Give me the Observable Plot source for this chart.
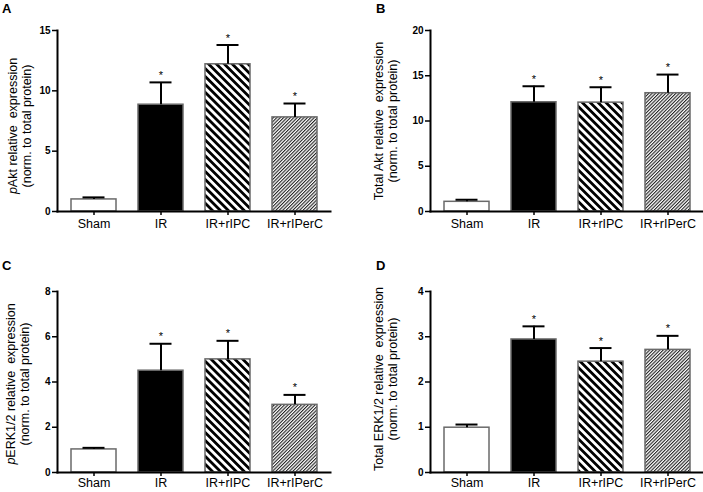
<!DOCTYPE html>
<html><head><meta charset="utf-8">
<script src="https://cdn.jsdelivr.net/npm/d3@7"></script>
<script src="https://cdn.jsdelivr.net/npm/@observablehq/plot@0.6"></script>
<style>
html,body{margin:0;padding:0;background:#fff;}
#root{position:relative;width:703px;height:492px;overflow:hidden;font-family:"Liberation Sans",Arial,sans-serif;color:#000;}
.panel{position:absolute;}
.plab{position:absolute;font-weight:bold;font-size:13px;line-height:13px;}
.ytitle{position:absolute;white-space:pre;text-align:center;font-size:12.5px;line-height:14px;transform:translate(-50%,-50%) rotate(-90deg);}
</style></head><body>
<svg width="0" height="0" style="position:absolute">
  <defs>
    <pattern id="hatchThick" patternUnits="userSpaceOnUse" width="5.6" height="5.6" patternTransform="rotate(-45)">
      <rect width="5.6" height="5.6" fill="white"/><rect width="2.8" height="5.6" fill="black"/>
    </pattern>
    <pattern id="hatchThin" patternUnits="userSpaceOnUse" width="2.4" height="2.4" patternTransform="rotate(45)">
      <rect width="2.4" height="2.4" fill="white"/><rect width="1.1" height="2.4" fill="#222"/>
    </pattern>
  </defs>
</svg>
<div id="root"></div>
<script>
// ---- data ----
const categories = ["Sham", "IR", "IR+rIPC", "IR+rIPerC"];
const significant = [false, true, true, true];
const fills = ["white", "black", "url(#hatchThick)", "url(#hatchThin)"];

const pAktMean = [1.0, 8.85, 12.2, 7.8];
const pAktSem = [0.17, 1.85, 1.6, 1.15];
const pAktTicks = [0, 5, 10, 15];

const totalAktMean = [1.07, 12.07, 12.03, 13.07];
const totalAktSem = [0.23, 1.77, 1.7, 2.06];
const totalAktTicks = [0, 5, 10, 15, 20];

const pErkMean = [1.02, 4.5, 5.0, 2.99];
const pErkSem = [0.07, 1.19, 0.82, 0.44];
const pErkTicks = [0, 2, 4, 6, 8];

const totalErkMean = [0.99, 2.94, 2.45, 2.71];
const totalErkSem = [0.07, 0.29, 0.30, 0.31];
const totalErkTicks = [0, 1, 2, 3, 4];

const panelLetters = ["A", "B", "C", "D"];
const titleLine1 = ["<i>p</i>Akt relative  expression", "Total Akt relative  expression", "<i>p</i>ERK1/2 relative  expression", "Total ERK1/2 relative  expression"];
const titleLine2 = "(norm. to total protein)";

// ---- layout ----
const panels = [
  {mean: pAktMean, sem: pAktSem, ticks: pAktTicks, left: 0, top: 0, width: 351, mL: 57, mR: 21, pad: 4, tx: 20, ty: 126, lx: 2, ly: 2},
  {mean: totalAktMean, sem: totalAktSem, ticks: totalAktTicks, left: 351, top: 0, width: 352, mL: 79, mR: 0, pad: 4, tx: 386, ty: 121, lx: 376, ly: 2},
  {mean: pErkMean, sem: pErkSem, ticks: pErkTicks, left: 0, top: 261, width: 351, mL: 57, mR: 21, pad: 2, tx: 18, ty: 384, lx: 2, ly: 259},
  {mean: totalErkMean, sem: totalErkSem, ticks: totalErkTicks, left: 351, top: 261, width: 352, mL: 79, mR: 0, pad: 2, tx: 386, ty: 379, lx: 376, ly: 259}
];

const root = document.getElementById("root");
const font = "'Liberation Sans', Arial, sans-serif";

panels.forEach((p, k) => {
  const data = categories.map((c, i) => ({cat: c, v: p.mean[i], top: p.mean[i] + p.sem[i], star: significant[i]}));
  const chart = Plot.plot({
    width: p.width, height: 246,
    marginLeft: p.mL, marginRight: p.mR, marginTop: 30, marginBottom: 35,
    style: {fontFamily: font, background: "transparent", color: "black", overflow: "visible"},
    x: {domain: categories, paddingInner: 0.335, paddingOuter: 0.18, label: null},
    y: {domain: [0, p.ticks[p.ticks.length - 1]], label: null},
    color: {domain: categories, range: fills},
    marks: [
      Plot.barY(data, {x: "cat", y: "v", fill: "cat", stroke: "#6a6a6a", strokeWidth: 1.5}),
      Plot.ruleX(data, {x: "cat", y1: "v", y2: "top", stroke: "black", strokeWidth: 2}),
      Plot.tickY(data, {x: "cat", y: "top", stroke: "black", strokeWidth: 2, insetLeft: 11.5, insetRight: 11.5}),
      Plot.text(data.filter(d => d.star), {x: "cat", y: "top", text: () => "*", dy: -7, fontSize: 11, fill: "black"}),
      Plot.axisY({ticks: p.ticks, tickFormat: d => String(d), tickSize: 5, tickPadding: 2, fontWeight: "bold", fontSize: 10, strokeWidth: 1.5, label: null}),
      Plot.axisX({tickSize: 4, tickPadding: p.pad, fontSize: 12.5, strokeWidth: 1.5, label: null}),
      Plot.frame({anchor: "left", strokeWidth: 2}),
      Plot.frame({anchor: "bottom", strokeWidth: 2})
    ]
  });
  const wrap = document.createElement("div");
  wrap.className = "panel";
  wrap.style.left = p.left + "px";
  wrap.style.top = p.top + "px";
  wrap.appendChild(chart);
  root.appendChild(wrap);

  const lab = document.createElement("div");
  lab.className = "plab";
  lab.style.left = p.lx + "px";
  lab.style.top = p.ly + "px";
  lab.textContent = panelLetters[k];
  root.appendChild(lab);

  const t = document.createElement("div");
  t.className = "ytitle";
  t.style.left = p.tx + "px";
  t.style.top = p.ty + "px";
  t.innerHTML = titleLine1[k] + "\n" + titleLine2;
  root.appendChild(t);
});
</script>
</body></html>
